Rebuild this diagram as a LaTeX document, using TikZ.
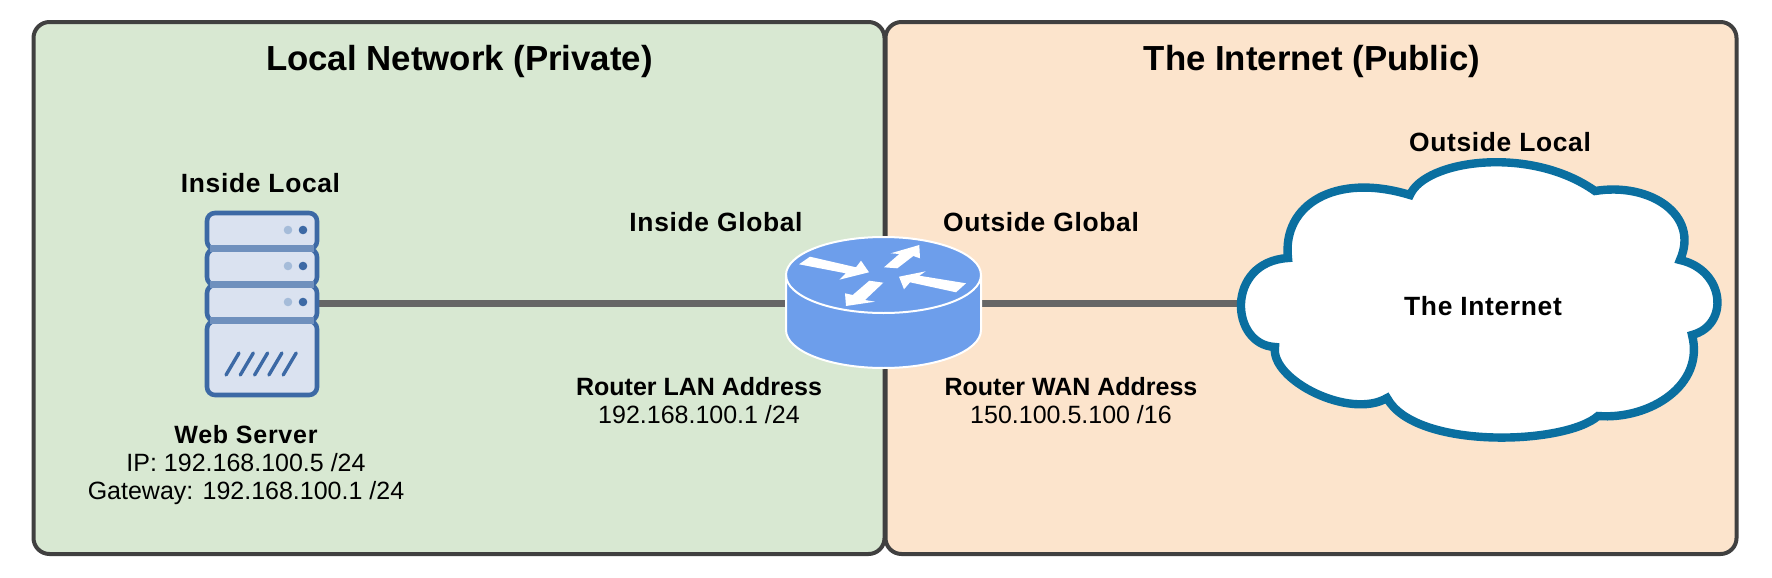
\documentclass[tikz,border=0pt]{standalone}
\usepackage{fontspec}
\setmainfont{Liberation Sans}
\definecolor{frameC}{HTML}{404040}
\definecolor{greenC}{HTML}{D8E8D2}
\definecolor{orangeC}{HTML}{FCE4CC}
\definecolor{wireC}{HTML}{666666}
\definecolor{srvD}{HTML}{3C69A5}
\definecolor{srvL}{HTML}{DAE2F0}
\definecolor{srvM}{HTML}{6F90BD}
\definecolor{srvP}{HTML}{A5BCD9}
\definecolor{rtC}{HTML}{6D9EEB}
\definecolor{cloudC}{HTML}{0A6FA0}
\tikzset{
 x=0.5pt,y=-0.5pt,
 zone/.style={draw=frameC,line width=2pt,rounded corners=8pt,inner sep=0pt,anchor=north west,minimum height=266pt},
 wire/.style={wireC,line width=3.5pt},
 lbl/.style={font=\fontsize{12.5pt}{13.8pt}\selectfont,align=center,inner sep=0pt,text=black},
 blbl/.style={lbl,font=\fontsize{13.2pt}{13.8pt}\selectfont\bfseries\addfontfeature{LetterSpace=2.5}},
 ttl/.style={lbl,font=\fontsize{17.4pt}{20pt}\selectfont\bfseries},
 bay/.style={draw=srvD,fill=srvL,line width=2.3pt,rounded corners=4pt},
 arw/.style={fill=white,draw=none},
}
\begin{document}
\begin{tikzpicture}
\useasboundingbox (0,0) rectangle (1772,578);
\fill[white] (0,0) rectangle (1772,578);
\node[zone,fill=greenC,minimum width=425.5pt] (localzone) at (31.5,20) {};
\node[zone,fill=orangeC,minimum width=425.5pt] (netzone) at (883.5,20) {};
\node[ttl] (t1) at (459.5,62) {Local Network (Private)};
\node[ttl] (t2) at (1312,62) {The Internet (Public)};
\coordinate (srvport) at (318,303);
\coordinate (rtwest) at (786,303);
\coordinate (rteast) at (981,303);
\coordinate (cloudwest) at (1244,303);
\draw[wire] (srvport) -- (rtwest);
\draw[wire] (rteast) -- (cloudwest);
% server
\draw[bay] (207,321) rectangle (317,395);
\draw[bay] (207,213) rectangle (317,249);
\draw[bay] (207,249) rectangle (317,285);
\draw[bay] (207,285) rectangle (317,321);
\fill[srvM] (210,245) rectangle (314,252);
\fill[srvM] (210,281) rectangle (314,288);
\fill[srvM] (210,317) rectangle (314,324);
\foreach \yy in {230,266,302}{
 \fill[srvP] (288,\yy) circle (4.3);
 \fill[srvD] (303,\yy) circle (4.3);
}
\foreach \xx in {0,14.3,28.6,42.9,57.2}{
 \draw[srvD,line width=1.7pt,line cap=round] (226+\xx,375) -- (239+\xx,353);
}
% router
\draw[white,fill=rtC,line width=1pt] (786,275) -- (786,330) arc[start angle=180,end angle=360,x radius=97.5,y radius=-38] -- (981,275) arc[start angle=0,end angle=180,x radius=97.5,y radius=-38] -- cycle;
\draw[white,line width=1pt] (786,275) arc[start angle=180,end angle=360,x radius=97.5,y radius=-38];
% router arrows
\fill[arw] (799,264.3) -- (810,256.7) -- (856,267.3) -- (861,260.7) -- (869,272.3) -- (839.3,279.7) -- (845.7,273.3) -- cycle;
\fill[arw] (884,267.3) -- (899.3,254) -- (890.7,253.3) -- (919.3,245) -- (920,258.3) -- (913.3,256) -- (897.3,268.3) -- cycle;
\fill[arw] (899,276.7) -- (925.7,271.3) -- (919.3,275.7) -- (966,283.3) -- (956,292.3) -- (910,282.3) -- (904,289.3) -- cycle;
\fill[arw] (846,306) -- (845,293.3) -- (852.7,295) -- (869.3,280.7) -- (883.3,282.7) -- (865,300) -- (875,301.7) -- cycle;
% cloud
\draw[cloudC,fill=white,line width=4.2pt,line join=miter,miter limit=3] (1288,258)
 .. controls (1282,205) and (1335,172) .. (1410,195)
 .. controls (1425,160) and (1530,145) .. (1595,191)
 .. controls (1650,182) and (1700,215) .. (1680,260)
 .. controls (1725,270) and (1730,325) .. (1692,335)
 .. controls (1705,385) and (1650,420) .. (1598,416)
 .. controls (1565,445) and (1415,450) .. (1387,398)
 .. controls (1350,420) and (1270,380) .. (1275,347)
 .. controls (1230,345) and (1225,262) .. (1288,258) -- cycle;
\node[blbl] (srvtop) at (260.5,183) {Inside Local};
\node[blbl] (ig) at (716,222) {Inside Global};
\node[blbl] (og) at (1041,222) {Outside Global};
\node[blbl] (ol) at (1500,142) {Outside Local};
\node[blbl] (net) at (1483,306) {The Internet};
\node[lbl] (srvinfo) at (246,465) {{\bfseries\addfontfeature{LetterSpace=3}Web Server}\\IP: 192.168.100.5 /24\\Gateway: 192.168.100.1 /24};
\node[lbl] (lan) at (699,400.5) {\textbf{Router LAN Address}\\192.168.100.1 /24};
\node[lbl] (wan) at (1071,400.5) {\textbf{Router WAN Address}\\150.100.5.100 /16};
\end{tikzpicture}
\end{document}
